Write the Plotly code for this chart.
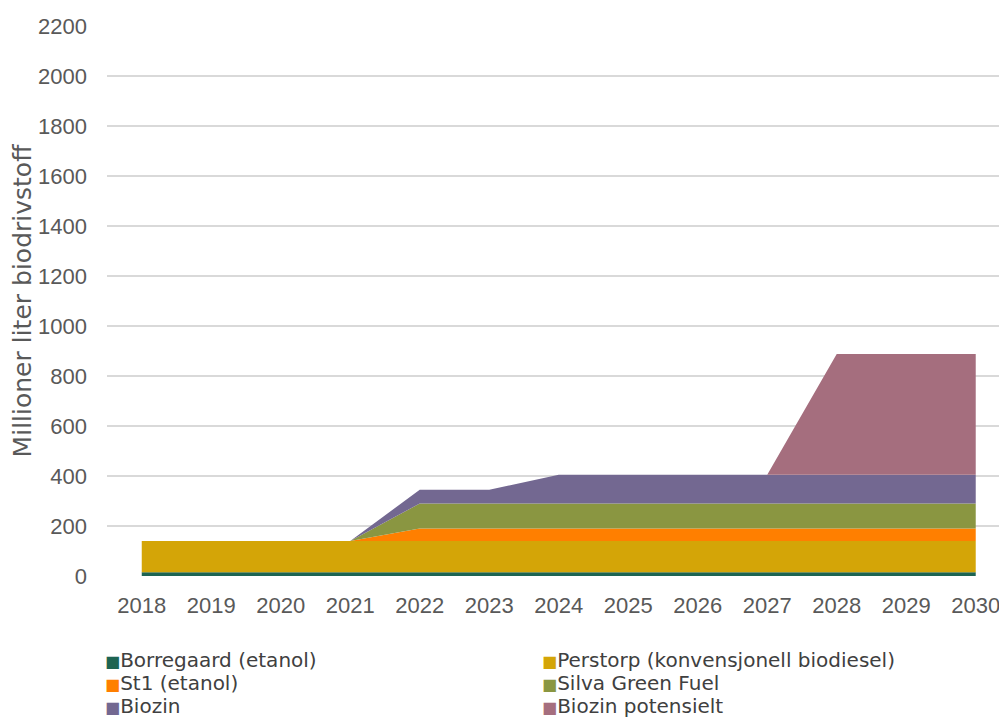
import plotly.graph_objects as go

years = [2018, 2019, 2020, 2021, 2022, 2023, 2024, 2025, 2026, 2027, 2028, 2029, 2030]
borregaard = [15, 15, 15, 15, 15, 15, 15, 15, 15, 15, 15, 15, 15]
perstorp = [125, 125, 125, 125, 125, 125, 125, 125, 125, 125, 125, 125, 125]
st1 = [0, 0, 0, 0, 50, 50, 50, 50, 50, 50, 50, 50, 50]
silva = [0, 0, 0, 0, 100, 100, 100, 100, 100, 100, 100, 100, 100]
biozin = [0, 0, 0, 0, 55, 55, 115, 115, 115, 115, 115, 115, 115]
biozin_pot = [0, 0, 0, 0, 0, 0, 0, 0, 0, 0, 483, 483, 483]

series = [
    ("Borregaard (etanol)", borregaard, "#1d6452"),
    ("Perstorp (konvensjonell biodiesel)", perstorp, "#d4a507"),
    ("St1 (etanol)", st1, "#ff7f00"),
    ("Silva Green Fuel", silva, "#8a9641"),
    ("Biozin", biozin, "#736891"),
    ("Biozin potensielt", biozin_pot, "#a56e7e"),
]

TICKFONT = "Liberation Sans, Arial, sans-serif"
TEXTFONT = "DejaVu Sans, Verdana, sans-serif"

fig = go.Figure()
for name, vals, col in series:
    fig.add_trace(go.Scatter(
        x=years, y=vals, stackgroup="one", mode="none",
        fillcolor=col, name=name, showlegend=False,
        hoverinfo="x+y+name"))

W, H = 999, 716  # page body has an 8px margin
PL, PT, PW, PH = 99, 18, 900, 550  # plot area in figure pixels

# two-column legend drawn as annotations (row-major order, like the reference)
for i, (name, vals, col) in enumerate(series):
    row, c = divmod(i, 2)
    fx = 95 + c * 437          # figure px of the square's left edge
    fy = 652 + row * 23        # figure px of the row's center
    fig.add_annotation(
        xref="paper", yref="paper",
        x=(fx - PL) / PW, y=(PT + PH - fy) / PH,
        xanchor="left", yanchor="middle", showarrow=False,
        text=f'<span style="color:{col};font-size:16px">■</span>{name}',
        font=dict(size=20, color="#404040", family=TEXTFONT))

fig.update_layout(
    width=W, height=H,
    margin=dict(l=PL, r=W - PL - PW, t=PT, b=H - PT - PH),
    paper_bgcolor="white", plot_bgcolor="white",
    font=dict(family=TEXTFONT, color="#595959", size=19),
    showlegend=False,
    xaxis=dict(range=[2017.5, 2030.45], tickmode="array", tickvals=years,
               ticktext=[str(y) for y in years], showgrid=False, zeroline=False,
               showline=False, ticks="", automargin=False, ticklabelstandoff=14,
               tickfont=dict(size=22, color="#595959", family=TICKFONT)),
    yaxis=dict(range=[0, 2200], tickmode="array", tickvals=list(range(0, 2201, 200)),
               showgrid=True, gridcolor="#d9d9d9", gridwidth=1.5, zeroline=False,
               ticks="", ticklabelstandoff=19, automargin=False,
               tickfont=dict(size=22, color="#595959", family=TICKFONT),
               title=dict(text="Millioner liter biodrivstoff",
                          font=dict(size=25, color="#595959", family=TEXTFONT),
                          standoff=6)),
)

fig.write_html("out.html")
